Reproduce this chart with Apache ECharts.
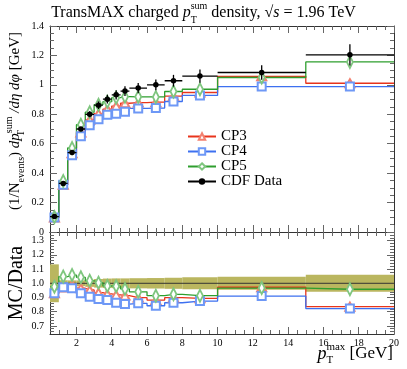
<!DOCTYPE html>
<html><head><meta charset="utf-8">
<script src="https://cdn.jsdelivr.net/npm/echarts@6/dist/echarts.min.js"></script>
<style>html,body{margin:0;padding:0;background:#fff}#c{width:407px;height:369px}</style>
</head><body><div id="c"></div>
<script>
// ---- data ----
const binLo  = [0.5, 1, 1.5, 2, 2.5, 3, 3.5, 4, 4.5, 5, 6, 7, 8, 10, 15];
const binHi  = [1, 1.5, 2, 2.5, 3, 3.5, 4, 4.5, 5, 6, 7, 8, 10, 15, 20];
const binMid = [0.75, 1.25, 1.75, 2.25, 2.75, 3.25, 3.75, 4.25, 4.75, 5.5, 6.5, 7.5, 9, 12.5, 17.5];
const cdfData = [0.105, 0.33, 0.54, 0.70, 0.80, 0.862, 0.903, 0.932, 0.958, 0.978, 1.0, 1.028, 1.06, 1.084, 1.204];
const cdfErr  = [0.014, 0.007, 0.011, 0.014, 0.02, 0.026, 0.03, 0.032, 0.033, 0.035, 0.037, 0.04, 0.045, 0.05, 0.072];
const cp3 = [0.098, 0.320, 0.534, 0.676, 0.762, 0.805, 0.835, 0.856, 0.875, 0.879, 0.882, 0.924, 0.948, 1.058, 1.011];
const cp4 = [0.098, 0.321, 0.521, 0.651, 0.725, 0.766, 0.796, 0.804, 0.818, 0.840, 0.842, 0.887, 0.928, 0.988, 0.988];
const cp5 = [0.102, 0.346, 0.571, 0.729, 0.814, 0.865, 0.886, 0.913, 0.920, 0.919, 0.918, 0.955, 0.970, 1.050, 1.156];
const ratio3 = [0.93, 0.97, 0.988, 0.965, 0.953, 0.934, 0.925, 0.918, 0.913, 0.899, 0.882, 0.899, 0.894, 0.972, 0.835];
const ratio4 = [0.93, 0.972, 0.965, 0.93, 0.906, 0.889, 0.882, 0.863, 0.854, 0.859, 0.842, 0.863, 0.875, 0.91, 0.822];
const ratio5 = [0.976, 1.047, 1.058, 1.042, 1.018, 1.004, 0.981, 0.98, 0.96, 0.94, 0.913, 0.922, 0.913, 0.966, 0.958];
const xMajorTicks = [2, 4, 6, 8, 10, 12, 14, 16, 18, 20];
const mainYTicks = [0, 0.2, 0.4, 0.6, 0.8, 1.0, 1.2, 1.4];
const ratioYTicks = [0.7, 0.8, 0.9, 1.0, 1.1, 1.2, 1.3];

// ---- tick helpers (axis decoration only) ----
function range(a, b, s, skipEvery) {
  const out = [];
  for (let v = a; v <= b + 1e-9; v += s) {
    const r = Math.round(v * 1000) / 1000;
    if (skipEvery && Math.abs(r / skipEvery - Math.round(r / skipEvery)) < 1e-6) continue;
    out.push(r);
  }
  return out;
}
const xMinorTicks = range(1, 19.5, 0.5, 2);
const mainYMinor = range(0.05, 1.35, 0.05, 0.2);
const ratioYMinor = range(0.66, 1.36, 0.02, 0.1);

const FONT = 'Liberation Serif';
const X0 = 0.5, X1 = 20, MY0 = 0, MY1 = 1.4, RY0 = 0.643, RY1 = 1.361;
const frame = '#333';

function xAxes(grid, labels) {
  const base = { type: 'value', gridIndex: grid, min: X0, max: X1, splitLine: { show: false } };
  return [
    Object.assign({}, base, { position: 'bottom', axisLine: { show: true, onZero: false, lineStyle: { color: frame, width: 1 } },
      axisTick: { inside: true, length: 7, customValues: xMajorTicks, lineStyle: { color: '#666' } },
      axisLabel: { show: labels, customValues: xMajorTicks, margin: 4, fontFamily: FONT, fontSize: 10, color: '#000' } }),
    Object.assign({}, base, { position: 'bottom', axisLine: { show: false, onZero: false },
      axisTick: { inside: true, length: 4, customValues: xMinorTicks, lineStyle: { color: '#666' } }, axisLabel: { show: false } }),
    Object.assign({}, base, { position: 'top', axisLine: { show: true, onZero: false, lineStyle: { color: frame, width: 1 } },
      axisTick: { inside: true, length: 7, customValues: xMajorTicks, lineStyle: { color: '#666' } }, axisLabel: { show: false } }),
    Object.assign({}, base, { position: 'top', axisLine: { show: false, onZero: false },
      axisTick: { inside: true, length: 4, customValues: xMinorTicks, lineStyle: { color: '#666' } }, axisLabel: { show: false } })
  ];
}
function yAxes(grid, min, max, major, minor, fmt) {
  const base = { type: 'value', gridIndex: grid, min: min, max: max, splitLine: { show: false } };
  return [
    Object.assign({}, base, { position: 'left', axisLine: { show: true, onZero: false, lineStyle: { color: frame, width: 1 } },
      axisTick: { inside: true, length: 7, customValues: major, lineStyle: { color: '#666' } },
      axisLabel: { customValues: major, formatter: fmt, margin: 6, fontFamily: FONT, fontSize: 10, color: '#000' } }),
    Object.assign({}, base, { position: 'left', axisLine: { show: false, onZero: false },
      axisTick: { inside: true, length: 4, customValues: minor, lineStyle: { color: '#666' } }, axisLabel: { show: false } }),
    Object.assign({}, base, { position: 'right', axisLine: { show: true, onZero: false, lineStyle: { color: frame, width: 1 } },
      axisTick: { inside: true, length: 7, customValues: major, lineStyle: { color: '#666' } }, axisLabel: { show: false } }),
    Object.assign({}, base, { position: 'right', axisLine: { show: false, onZero: false },
      axisTick: { inside: true, length: 4, customValues: minor, lineStyle: { color: '#666' } }, axisLabel: { show: false } })
  ];
}

function stepItems(vals) {
  const d = [];
  for (let i = 0; i < vals.length; i++) {
    d.push({ value: [binLo[i], vals[i]], symbol: 'none' });
    d.push({ value: [binMid[i], vals[i]] });
    d.push({ value: [binHi[i], vals[i]], symbol: 'none' });
  }
  return d;
}
const styles = {
  CP3: { line: '#e8341c', mark: '#f3806f', symbol: 'emptyTriangle', size: [9, 8] },
  CP4: { line: '#3d70f0', mark: '#6e98f6', symbol: 'emptyRect', size: [8, 8] },
  CP5: { line: '#2e9e2e', mark: '#7fc67f', symbol: 'emptyDiamond', size: [6, 12] }
};
function mcSeries(name, vals, xi, yi) {
  const s = styles[name];
  return { type: 'line', name: name, xAxisIndex: xi, yAxisIndex: yi, data: stepItems(vals),
    symbol: s.symbol, symbolSize: s.size, showSymbol: true, showAllSymbol: true, animation: false, z: 3,
    lineStyle: { color: s.line, width: 1.3 }, itemStyle: { color: s.mark, borderWidth: 1.2 } };
}

// data horizontal bars + points
const dataItems = [];
for (let i = 0; i < cdfData.length; i++) {
  dataItems.push({ value: [binLo[i], cdfData[i]], symbol: 'none' });
  dataItems.push({ value: [binMid[i], cdfData[i]] });
  dataItems.push({ value: [binHi[i], cdfData[i]], symbol: 'none' });
  dataItems.push({ value: [binHi[i], '-'], symbol: 'none' });
}
const errItems = cdfData.map((v, i) => [binMid[i], v - cdfErr[i], v + cdfErr[i]]);
const bandItems = cdfData.map((v, i) => [binLo[i], binHi[i], 1 - cdfErr[i] / v, 1 + cdfErr[i] / v]);

const option = {
  animation: false,
  grid: [
    { left: 50, right: 13, top: 26, height: 206 },
    { left: 50, right: 13, top: 232, height: 102 }
  ],
  xAxis: [].concat(xAxes(0, false), xAxes(1, true)),
  yAxis: [].concat(
    yAxes(0, MY0, MY1, mainYTicks, mainYMinor, v => String(+v.toFixed(1))),
    yAxes(1, RY0, RY1, ratioYTicks, ratioYMinor, v => v.toFixed(1))
  ),
  legend: {
    orient: 'vertical', left: 182, top: 124, itemWidth: 28, itemHeight: 8, itemGap: 0,
    data: ['CP3', 'CP4', 'CP5', 'CDF Data'],
    textStyle: { fontFamily: FONT, fontSize: 15, color: '#000' },
    selectedMode: false
  },
  series: [
    mcSeries('CP3', cp3, 0, 0),
    mcSeries('CP4', cp4, 0, 0),
    mcSeries('CP5', cp5, 0, 0),
    { type: 'line', name: 'CDF Data', xAxisIndex: 0, yAxisIndex: 0, data: dataItems, connectNulls: false,
      symbol: 'circle', symbolSize: 5.5, showSymbol: true, showAllSymbol: true, z: 5,
      lineStyle: { color: '#000', width: 1.3 }, itemStyle: { color: '#000' } },
    { type: 'custom', name: 'err', xAxisIndex: 0, yAxisIndex: 0, data: errItems, z: 5, clip: true,
      encode: { x: 0, y: [1, 2] },
      renderItem: function (params, api) {
        const a = api.coord([api.value(0), api.value(1)]);
        const b = api.coord([api.value(0), api.value(2)]);
        return { type: 'line', shape: { x1: a[0], y1: a[1], x2: b[0], y2: b[1] }, style: { stroke: '#000', lineWidth: 1.3 } };
      } },
    // ratio panel
    { type: 'custom', name: 'band', xAxisIndex: 4, yAxisIndex: 4, data: bandItems, z: 1, clip: true,
      encode: { x: [0, 1], y: [2, 3] },
      renderItem: function (params, api) {
        const p0 = api.coord([api.value(0), api.value(3)]);
        const p1 = api.coord([api.value(1), api.value(2)]);
        return { type: 'rect', shape: { x: p0[0], y: p0[1], width: p1[0] - p0[0], height: p1[1] - p0[1] },
          style: { fill: '#bab65f' } };
      } },
    { type: 'line', name: 'unity', xAxisIndex: 4, yAxisIndex: 4, data: [[X0, 1], [X1, 1]], symbol: 'none', z: 2,
      lineStyle: { color: '#333', width: 1 } },
    mcSeries('CP3', ratio3, 4, 4),
    mcSeries('CP4', ratio4, 4, 4),
    mcSeries('CP5', ratio5, 4, 4)
  ],
  graphic: [
    { type: 'text', left: 'center', top: 1, style: {
      text: '{n|TransMAX charged }{i|p}{sub|T}{sup|sum}{n| density, }{n|√}{i|s}{n| = 1.96 TeV}',
      rich: {
        n: { fontFamily: FONT, fontSize: 16, lineHeight: 24, fill: '#000' },
        i: { fontFamily: FONT, fontSize: 16, fontStyle: 'italic', lineHeight: 24, fill: '#000' },
        sub: { fontFamily: FONT, fontSize: 10, lineHeight: 9, verticalAlign: 'bottom', width: 0, fill: '#000' },
        sup: { fontFamily: FONT, fontSize: 10, lineHeight: 12, verticalAlign: 'top', fill: '#000' }
      } } },
    { type: 'text', x: 15, y: 121, rotation: Math.PI / 2, style: {
      text: '{n|(1/N}{sub2|events}{n|) }{i|dp}{sub|T}{sup|sum}{i| /dη dφ}{n| [GeV]}',
      align: 'center', verticalAlign: 'middle',
      rich: {
        n: { fontFamily: FONT, fontSize: 15, lineHeight: 22, fill: '#000' },
        i: { fontFamily: FONT, fontSize: 15, fontStyle: 'italic', lineHeight: 22, fill: '#000' },
        sub2: { fontFamily: FONT, fontSize: 10, lineHeight: 9, verticalAlign: 'bottom', fill: '#000' },
        sub: { fontFamily: FONT, fontSize: 10, lineHeight: 9, verticalAlign: 'bottom', width: 0, fill: '#000' },
        sup: { fontFamily: FONT, fontSize: 10, lineHeight: 11, verticalAlign: 'top', fill: '#000' }
      } } },
    { type: 'text', x: 17, y: 283, rotation: Math.PI / 2, style: {
      text: 'MC/Data', align: 'center', verticalAlign: 'middle',
      fontFamily: FONT, fontSize: 20, fill: '#000' } },
    { type: 'text', right: 14, top: 342, style: {
      text: '{i|p}{sub|T}{sup|max}{n| [GeV]}',
      rich: {
        n: { fontFamily: FONT, fontSize: 17, lineHeight: 24, fill: '#000' },
        i: { fontFamily: FONT, fontSize: 18, fontStyle: 'italic', lineHeight: 24, fill: '#000' },
        sub: { fontFamily: FONT, fontSize: 11, lineHeight: 10, verticalAlign: 'bottom', width: 0, fill: '#000' },
        sup: { fontFamily: FONT, fontSize: 11, lineHeight: 10, verticalAlign: 'top', fill: '#000' }
      } } }
  ]
};
const chart = echarts.init(document.getElementById('c'), null, { renderer: 'canvas' });
chart.setOption(option);
</script>
</body></html>
